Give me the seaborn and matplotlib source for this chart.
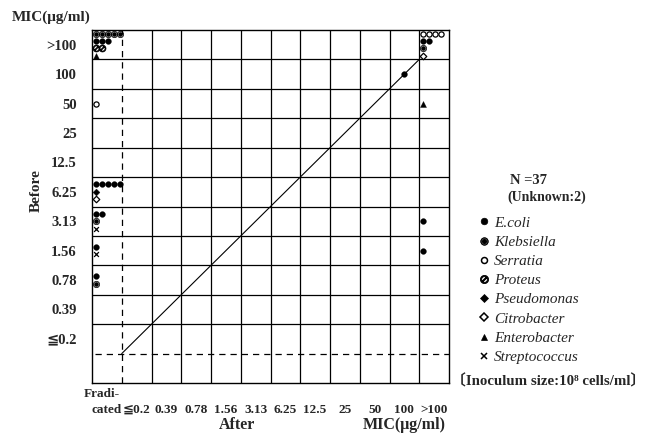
import matplotlib
matplotlib.use('Agg')
import matplotlib.pyplot as plt
from matplotlib.lines import Line2D
import pandas as pd
import seaborn as sns

# MIC categories (after = columns, before = rows, bottom to top)
after_levels = ['Eradicated', '≦0.2', '0.39', '0.78', '1.56', '3.13', '6.25',
                '12.5', '25', '50', '100', '>100']
before_levels = ['Eradicated', '≦0.2', '0.39', '0.78', '1.56', '3.13', '6.25',
                 '12.5', '25', '50', '100', '>100']
after_ticks = ['cated', '≦0.2', '0.39', '0.78', '1.56', '3.13', '6.25',
               '12.5', '25', '50', '100', '>100']

species_names = ['E.coli', 'Klebsiella', 'Serratia', 'Proteus', 'Pseudomonas',
                 'Citrobacter', 'Enterobacter', 'Streptococcus']

# number of isolates per (after, before, species)
after_mic = ['Eradicated'] * 15 + ['100'] + ['>100'] * 7
before_mic = ['>100', '>100', '>100', '>100', '50',
              '6.25', '6.25', '6.25', '3.13', '3.13', '3.13',
              '1.56', '1.56', '0.78', '0.78',
              '100',
              '>100', '>100', '>100', '>100', '50', '3.13', '1.56']
species = ['Klebsiella', 'E.coli', 'Proteus', 'Enterobacter', 'Serratia',
           'E.coli', 'Pseudomonas', 'Citrobacter', 'E.coli', 'Klebsiella', 'Streptococcus',
           'E.coli', 'Streptococcus', 'E.coli', 'Klebsiella',
           'E.coli',
           'Serratia', 'E.coli', 'Klebsiella', 'Citrobacter', 'Enterobacter', 'E.coli', 'E.coli']
counts = [5, 3, 2, 1, 1,
          5, 1, 1, 2, 1, 1,
          1, 1, 1, 1,
          1,
          4, 2, 1, 1, 1, 1, 1]

W, H = 646, 437
SERIF = ['Liberation Serif', 'DejaVu Serif', 'DejaVu Sans', 'Noto Sans CJK JP']

sns.set_style('white')
plt.rcParams['font.family'] = SERIF
plt.rcParams['font.weight'] = 'bold'


def fx(x):
    return x / W


def fy(y):
    return 1 - y / H


marker_kws = {
    'E.coli': dict(marker='o', facecolor='black', edgecolor='black', linewidth=0.3, s=17),
    'Klebsiella': dict(marker='$◉$', facecolor='black', edgecolor='black', linewidth=0.2, s=24),
    'Serratia': dict(marker='o', facecolor='white', edgecolor='black', linewidth=0.9, s=14),
    'Proteus': dict(marker='$\\oslash$', facecolor='black', edgecolor='black', linewidth=0.4, s=26),
    'Pseudomonas': dict(marker='D', facecolor='black', edgecolor='black', linewidth=0.3, s=12),
    'Citrobacter': dict(marker='D', facecolor='white', edgecolor='black', linewidth=0.9, s=11),
    'Enterobacter': dict(marker='^', facecolor='black', edgecolor='black', linewidth=0.3, s=18),
    'Streptococcus': dict(marker='x', color='black', linewidth=0.9, s=12),
}

# place isolates inside their cell: one line per species, stacked and centred vertically
df = pd.DataFrame({'after': after_mic, 'before': before_mic, 'species': species, 'count': counts})
df['col'] = df['after'].map(after_levels.index)
df['row'] = df['before'].map(before_levels.index)
df['line'] = df.groupby(['col', 'row']).cumcount()
df['nlines'] = df.groupby(['col', 'row'])['species'].transform('size')
edge_cols = (0, len(after_levels) - 1)
points = []
for rec in df.itertuples():
    for j in range(rec.count):
        if rec.col in edge_cols:
            x = rec.col + 0.13 + 0.2 * j
        else:
            x = rec.col + 0.5 + 0.2 * (j - (rec.count - 1) / 2)
        y = rec.row + 0.5 + 0.25 * ((rec.nlines - 1) / 2 - rec.line)
        points.append({'x': x, 'y': y, 'species': rec.species})
pts = pd.DataFrame(points)

fig = plt.figure(figsize=(W / 100, H / 100), dpi=100)
ax = fig.add_axes([fx(92), fy(383), 357 / W, 353 / H])
ncol, nrow = len(after_levels), len(before_levels)
ax.set_xlim(0, ncol)
ax.set_ylim(0, nrow)

ax.vlines(range(2, ncol), 0, nrow, color='black', linewidth=0.9, zorder=1)
ax.hlines(range(2, nrow), 0, ncol, color='black', linewidth=0.9, zorder=1)
ax.vlines(1, 0, nrow, color='black', linewidth=0.9, linestyles=(0, (5, 4)), zorder=1)
ax.hlines(1, 0.1, ncol, color='black', linewidth=0.9, linestyles=(0, (5, 4)), zorder=1)
ax.plot([1, ncol - 1], [1, nrow - 1], color='black', linewidth=0.8, zorder=1)

for name in species_names:
    sub = pts[pts['species'] == name]
    sns.scatterplot(data=sub, x='x', y='y', ax=ax, legend=False, zorder=3, **marker_kws[name])

for sp in ax.spines.values():
    sp.set_visible(True)
    sp.set_color('black')
    sp.set_linewidth(1.0)

ax.set_xticks([c + 0.5 for c in range(ncol)])
ax.set_xticklabels(after_ticks, fontsize=9.5, fontweight='bold')
ax.set_yticks([r + 0.5 for r in range(1, nrow)])
ax.set_yticklabels(before_levels[1:], fontsize=10.5, fontweight='bold')
ax.tick_params(axis='x', length=0, pad=15)
ax.tick_params(axis='y', length=0, pad=11)
ax.set_xlabel('')
ax.set_ylabel('')

fig.text(fx(84), fy(394), 'Fradi-', ha='left', va='center', fontsize=9.5, fontweight='bold')
fig.text(fx(51), fy(17), 'MIC(μg/ml)', ha='center', va='center', fontsize=11, fontweight='bold')
fig.text(fx(36), fy(191), 'Before', ha='center', va='center', rotation=90, fontsize=11, fontweight='bold')
fig.text(fx(237), fy(425), 'After', ha='center', va='center', fontsize=11.5, fontweight='bold')
fig.text(fx(404), fy(425), 'MIC(μg/ml)', ha='center', va='center', fontsize=11.5, fontweight='bold')
fig.text(fx(451), fy(381), '〔Inoculum size:10⁸ cells/ml〕', ha='left', va='center', fontsize=10.7, fontweight='bold')
fig.text(fx(528), fy(181), 'N =37', ha='center', va='center', fontsize=10.5, fontweight='bold')
fig.text(fx(547), fy(197), '(Unknown:2)', ha='center', va='center', fontsize=10, fontweight='bold')

handles = []
for name in species_names:
    kw = marker_kws[name]
    handles.append(Line2D([], [], linestyle='none', marker=kw['marker'],
                          markerfacecolor=kw.get('facecolor', 'black'),
                          markeredgecolor=kw.get('edgecolor', 'black'),
                          markeredgewidth=kw['linewidth'] + 0.2,
                          markersize=(kw['s'] ** 0.5) * 1.15))
fig.legend(handles, species_names, loc='upper left', bbox_to_anchor=(fx(479), fy(216)),
           frameon=False, borderaxespad=0, borderpad=0, handlelength=0.7,
           handletextpad=0.3, labelspacing=0.36,
           prop={'family': SERIF, 'style': 'italic', 'weight': 'normal', 'size': 11})

fig.savefig('out.png', dpi=100)
